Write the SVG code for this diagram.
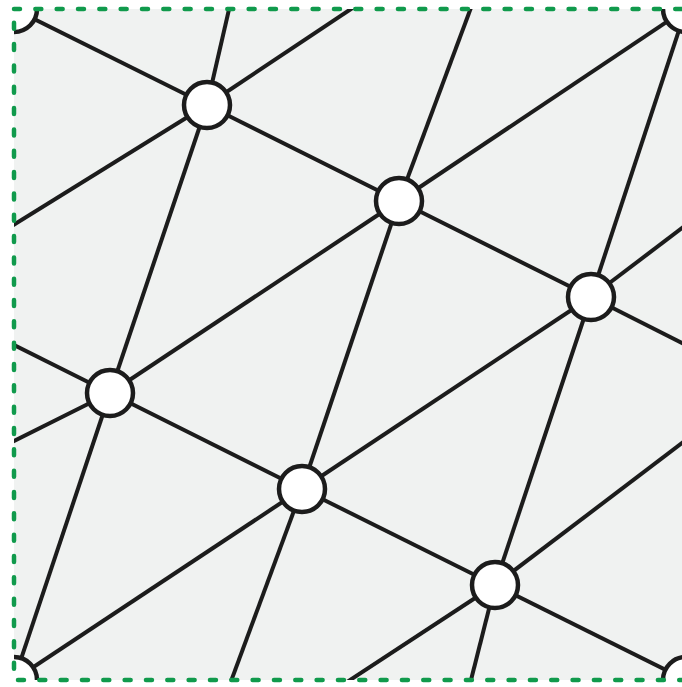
<svg xmlns="http://www.w3.org/2000/svg" width="682" height="687" viewBox="0 0 682 687">
  <style>
    .edge { stroke: #1c1c1c; stroke-width: 4; fill: none; stroke-linecap: butt; }
    .node { fill: #ffffff; stroke: #1c1c1c; stroke-width: 4.5; }
    .border { fill: none; stroke: #109a4c; stroke-width: 4.5; stroke-dasharray: 6 15.33; stroke-linecap: round; }
  </style>
  <defs>
    <clipPath id="sq">
      <rect x="14" y="9" width="672" height="671"/>
    </clipPath>
  </defs>
  <rect id="background" x="14" y="9" width="672" height="671" fill="#f0f2f1"/>
  <g id="connectors" clip-path="url(#sq)">
    <line class="edge" x1="14" y1="9" x2="207" y2="105"/>
    <line class="edge" x1="14" y1="680" x2="110" y2="393"/>
    <line class="edge" x1="14" y1="680" x2="302" y2="489"/>
    <line class="edge" x1="686" y1="9" x2="399" y2="201"/>
    <line class="edge" x1="686" y1="9" x2="591" y2="297"/>
    <line class="edge" x1="686" y1="680" x2="495" y2="585"/>
    <line class="edge" x1="207" y1="105" x2="399" y2="201"/>
    <line class="edge" x1="399" y1="201" x2="591" y2="297"/>
    <line class="edge" x1="110" y1="393" x2="302" y2="489"/>
    <line class="edge" x1="302" y1="489" x2="495" y2="585"/>
    <line class="edge" x1="207" y1="105" x2="110" y2="393"/>
    <line class="edge" x1="399" y1="201" x2="302" y2="489"/>
    <line class="edge" x1="591" y1="297" x2="495" y2="585"/>
    <line class="edge" x1="110" y1="393" x2="399" y2="201"/>
    <line class="edge" x1="302" y1="489" x2="591" y2="297"/>
    <line class="edge" x1="207" y1="105" x2="230" y2="5"/>
    <line class="edge" x1="230" y1="684" x2="302" y2="489"/>
    <line class="edge" x1="207" y1="105" x2="357" y2="5"/>
    <line class="edge" x1="344" y1="684" x2="495" y2="585"/>
    <line class="edge" x1="399" y1="201" x2="472" y2="5"/>
    <line class="edge" x1="470" y1="684" x2="495" y2="585"/>
    <line class="edge" x1="207" y1="105" x2="10" y2="227"/>
    <line class="edge" x1="690" y1="222" x2="591" y2="297"/>
    <line class="edge" x1="110" y1="393" x2="10" y2="343"/>
    <line class="edge" x1="690" y1="347" x2="591" y2="297"/>
    <line class="edge" x1="110" y1="393" x2="10" y2="443"/>
    <line class="edge" x1="690" y1="437" x2="495" y2="585"/>
  </g>
  <g id="nodes">
    <g id="n0" clip-path="url(#sq)">
      <circle class="node" cx="14" cy="9" r="23"/>
      <circle class="node" cx="686" cy="9" r="23"/>
      <circle class="node" cx="14" cy="680" r="23"/>
      <circle class="node" cx="686" cy="680" r="23"/>
    </g>
    <g id="n1"><circle class="node" cx="207" cy="105" r="23"/></g>
    <g id="n2"><circle class="node" cx="399" cy="201" r="23"/></g>
    <g id="n3"><circle class="node" cx="591" cy="297" r="23"/></g>
    <g id="n4"><circle class="node" cx="110" cy="393" r="23"/></g>
    <g id="n5"><circle class="node" cx="302" cy="489" r="23"/></g>
    <g id="n6"><circle class="node" cx="495" cy="585" r="23"/></g>
  </g>
  <rect id="border" class="border" x="14" y="9" width="672" height="671"/>
</svg>
